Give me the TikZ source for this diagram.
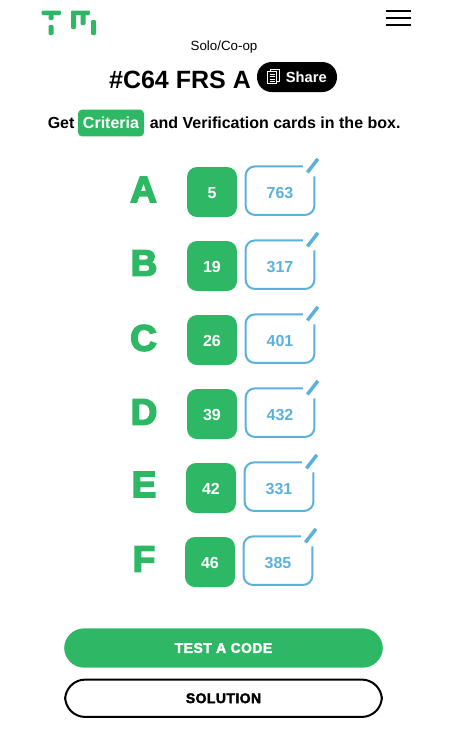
\documentclass[tikz,border=0pt]{standalone}
\usepackage{fontspec}
\setmainfont{Liberation Sans}
\newfontfamily\heavyfont{Liberation Sans}[BoldFeatures={FakeBold=4.5}]
\newfontfamily\buttonfont{Liberation Sans}[BoldFeatures={FakeBold=2.5,LetterSpace=3}]
\usepackage{xcolor}
\usetikzlibrary{arrows.meta,positioning,calc}
\definecolor{tmgreen}{HTML}{2EB866}
\definecolor{tmblue}{HTML}{5AB1DB}
% outline of a code card, open at the top right corner
\newcommand{\cardedge}[1]{
  \draw[cardline, rounded corners=7pt] ($(#1.north east)+(-11.5,0)$) -- (#1.north west)
    -- (#1.south west) -- (#1.south east) -- ($(#1.north east)+(0,10)$);
  \draw[cardslash] ($(#1.north east)+(-7,6)$) -- ($(#1.north east)+(3.5,-7.5)$);
}
\begin{document}
\begin{tikzpicture}[
  x=0.75pt, y=-0.75pt,
  font=\bfseries,
  numbox/.style={fill=tmgreen, rounded corners=7.5pt, minimum width=37.5pt, minimum height=37.5pt,
                 inner sep=0pt, text=white, text height=10.1pt, text depth=0pt,
                 font=\fontsize{12}{14}\bfseries},
  codebox/.style={minimum width=51.2pt, minimum height=36pt, inner sep=0pt, yshift=1pt,
                  text=tmblue, text height=12pt, text depth=0pt, font=\fontsize{12}{14}\bfseries},
  cardline/.style={draw=tmblue, line width=1.5pt},
  cardslash/.style={draw=tmblue, line width=2.6pt},
  letter/.style={text=tmgreen, draw=none, inner sep=0pt, font=\fontsize{27.5}{30}\heavyfont\bfseries},
  pill/.style={rounded corners=15pt, minimum width=239pt, minimum height=29.5pt, inner sep=0pt,
               font=\fontsize{10.5}{12}\buttonfont\bfseries},
  logobar/.style={fill=tmgreen, rounded corners=0.8pt},
  menubar/.style={draw=black, line width=1.5pt}
]
\useasboundingbox (0,0) rectangle (460,744);

% logo and menu
\fill[logobar] (41.5,10.5) rectangle (61,15);
\fill[logobar] (48.5,14) rectangle (53.5,20);
\fill[logobar] (48.5,25) rectangle (53.5,35);
\fill[logobar] (71,10.5) rectangle (90,15);
\fill[logobar] (71,14) rectangle (76,29);
\fill[logobar] (80.5,14) rectangle (85.5,25);
\fill[logobar] (91,20) rectangle (96,35);
\draw[menubar] (386,11) -- (411,11);
\draw[menubar] (386,18) -- (411,18);
\draw[menubar] (386,25) -- (411,25);

% heading
\node[font=\fontsize{10}{12}\selectfont] (mode) at (224,47.5) {Solo/Co-op};
\node[font=\fontsize{18.75}{20}\bfseries] (title) at (180,79.5) {\#C64 FRS A};
\node[fill=black, text=white, rounded corners=11pt, minimum width=60pt, minimum height=22.5pt,
      inner sep=0pt, font=\fontsize{11}{12}\bfseries] (share) at (297,77) {\hspace{14pt}Share};
\node[font=\fontsize{12}{14}\bfseries, anchor=west, inner sep=0pt] (get) at (47.5,123) {Get};
\node[fill=tmgreen, text=white, rounded corners=3pt, inner sep=0pt, minimum width=49.5pt,
      minimum height=20pt, font=\fontsize{12}{14}\bfseries] (crit) at (111,123) {Criteria};
\node[font=\fontsize{12}{14}\bfseries, anchor=west, inner sep=0pt] (rest) at (149.5,123)
  {and Verification cards in the box.};

% copy icon on the share button
\draw[white, line width=0.6pt, fill=black] (270,69) rectangle (279,81);
\draw[white, line width=0.6pt, fill=black] (267.5,71) rectangle (276.5,83.5);
\draw[white, line width=0.6pt] (269.5,74) -- (274.5,74) (269.5,76.5) -- (274.5,76.5) (269.5,79) -- (274.5,79) (269.5,81) -- (274.5,81);

% rows
\node[numbox] (numA) at (212,192) {5};
\node[numbox] (numB) at (212,266) {19};
\node[numbox] (numC) at (212,340) {26};
\node[numbox] (numD) at (212,414) {39};
\node[numbox] (numE) at (211,488) {42};
\node[numbox] (numF) at (210,562) {46};

\node[codebox, right=6.25pt of numA] (codeA) {763};
\node[codebox, right=6.25pt of numB] (codeB) {317};
\node[codebox, right=6.25pt of numC] (codeC) {401};
\node[codebox, right=6.25pt of numD] (codeD) {432};
\node[codebox, right=6.25pt of numE] (codeE) {331};
\node[codebox, right=6.25pt of numF] (codeF) {385};

\node[letter] (letA) at (143.5,189.5) {A};
\node[letter] (letB) at (144,263) {B};
\node[letter] (letC) at (143.5,338) {C};
\node[letter] (letD) at (144,412) {D};
\node[letter] (letE) at (144,484.5) {E};
\node[letter] (letF) at (144,559) {F};

\cardedge{codeA}
\cardedge{codeB}
\cardedge{codeC}
\cardedge{codeD}
\cardedge{codeE}
\cardedge{codeF}

% buttons
\node[pill, fill=tmgreen, text=white] (test) at (223.5,648) {TEST A CODE};
\node[pill, draw=black, line width=1.5pt, minimum width=237.5pt, minimum height=28pt, below=8pt of test] (sol) {SOLUTION};
\end{tikzpicture}
\end{document}
